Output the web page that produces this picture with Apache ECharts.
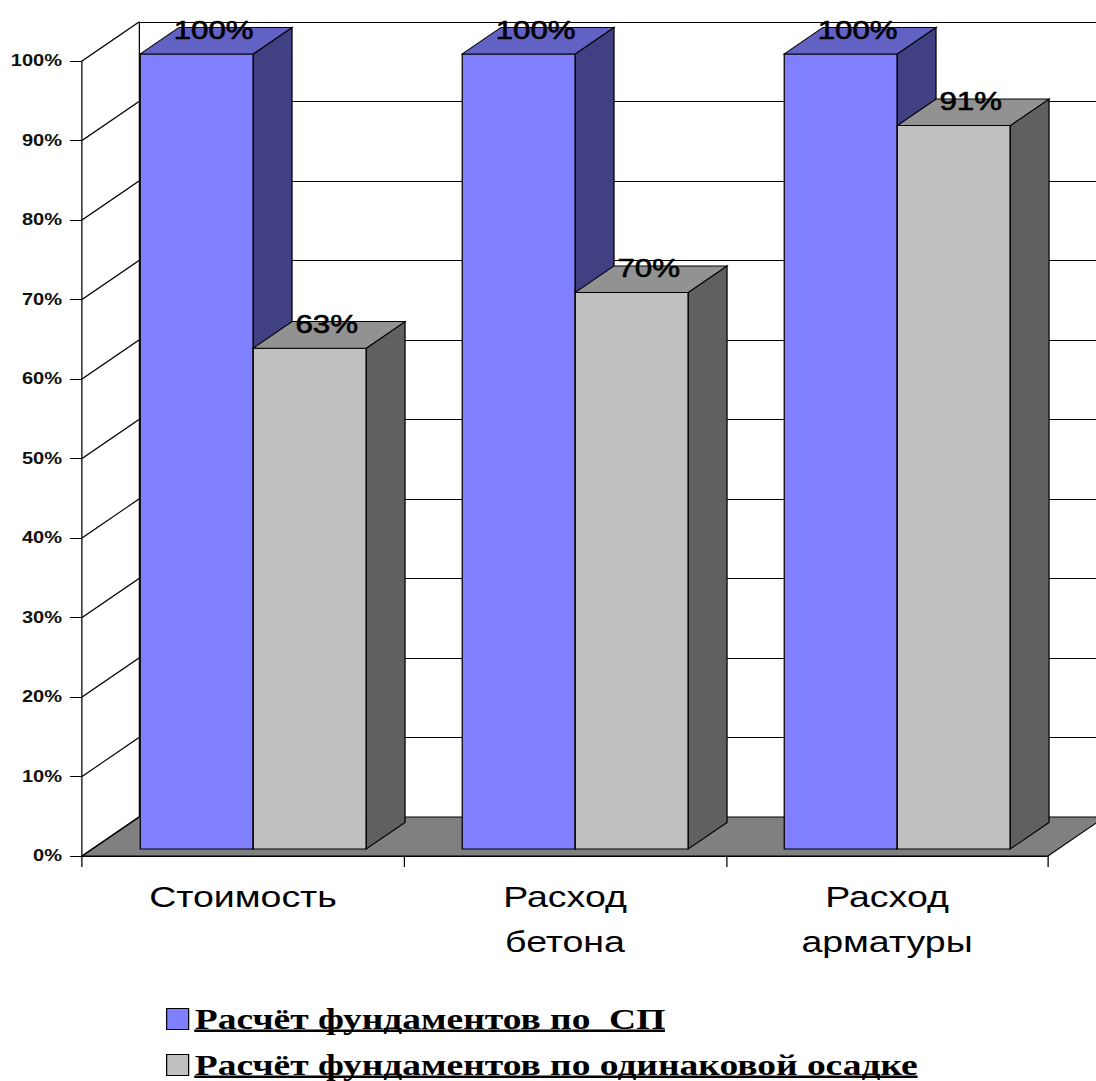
<!DOCTYPE html>
<html>
<head>
<meta charset="utf-8">
<script src="https://cdn.jsdelivr.net/npm/echarts@6.0.0/dist/echarts.min.js"></script>
<style>
  html, body { margin: 0; padding: 0; background: #fff; overflow: hidden; width: 1096px; height: 1081px; }
  /* the chart is laid out narrow and widened horizontally, like the original slide graphic */
  #chart { width: 876.8px; height: 1081px; transform: scaleX(1.25); transform-origin: 0 0; }
</style>
</head>
<body>
<div id="chart"></div>
<script>
// ---- data ----
const CATEGORIES = ['Стоимость', 'Расход\nбетона', 'Расход\nарматуры'];
const SERIES_NAMES = ['Расчёт фундаментов по  СП', 'Расчёт фундаментов по одинаковой осадке'];
const SP_VALUES = [1.00, 1.00, 1.00];
const SETTLEMENT_VALUES = [0.63, 0.70, 0.91];
const Y_TICKS = [0, 0.1, 0.2, 0.3, 0.4, 0.5, 0.6, 0.7, 0.8, 0.9, 1.0];

// ---- 3D look ----
const DX = 45.6, DY = -39;          // depth vector of the walls/floor
const BAR_FRONT = 0.18;             // bars start this far into the depth
const BAR_DEPTH = 0.68;             // bar thickness as part of the depth
const BAR_FRAC = 0.351;             // bar width as part of a category band

const GRID = { left: 65.6, top: 61, width: 772.8, height: 795 };

const pct = v => Math.round(v * 100) + '%';

const PALETTE = [
  { front: '#8080FF', top: '#6262C4', side: '#404082' },
  { front: '#C0C0C0', top: '#929292', side: '#606060' }
];

function barRenderer(slot) {
  const c = PALETTE[slot];
  return function (params, api) {
    const cat = api.value(0), v = api.value(1);
    const base = api.coord([cat, 0]);
    const top = api.coord([cat, v]);
    const w = api.size([1, 0])[0] * BAR_FRAC;
    const fx = BAR_FRONT * DX, fy = BAR_FRONT * DY;
    const bx = BAR_DEPTH * DX, by = BAR_DEPTH * DY;
    const xl = base[0] - w + slot * w + fx;
    const xr = xl + w;
    const yb = base[1] + fy, yt = top[1] + fy;
    const edge = { stroke: '#000', lineWidth: 1 };
    return {
      type: 'group',
      children: [
        { type: 'rect', shape: { x: xl, y: yt, width: w, height: yb - yt },
          style: Object.assign({ fill: c.front }, edge) },
        { type: 'polygon', shape: { points: [[xr, yb], [xr + bx, yb + by], [xr + bx, yt + by], [xr, yt]] },
          style: Object.assign({ fill: c.side }, edge) },
        { type: 'polygon', shape: { points: [[xl, yt], [xr, yt], [xr + bx, yt + by], [xl + bx, yt + by]] },
          style: Object.assign({ fill: c.top }, edge) },
        { type: 'text', x: xl + w / 2 + bx / 2 - 2, y: yt - 24,
          style: { text: pct(v), fontSize: 25, fontFamily: 'Liberation Sans', fill: '#000',
                   stroke: '#000', lineWidth: 0.6,
                   align: 'center', verticalAlign: 'middle' } }
      ]
    };
  };
}

// side wall diagonals and the floor
function frameRenderer(params, api) {
  const cs = params.coordSys;
  const v = api.value(0);
  const y = api.coord([0, v])[1];
  const x0 = cs.x;
  const children = [];
  if (v === 0) {
    children.push({
      type: 'polygon',
      shape: { points: [[x0, y], [x0 + cs.width, y], [x0 + cs.width + DX, y + DY], [x0 + DX, y + DY]] },
      style: { fill: '#808080', stroke: '#000', lineWidth: 1 }
    });
  }
  children.push({
    type: 'line',
    shape: { x1: x0, y1: y, x2: x0 + DX, y2: y + DY },
    style: { stroke: '#000', lineWidth: 1 }
  });
  return { type: 'group', children };
}

const LEGEND = { left: 132.8, top: 1004, rowStep: 46, itemWidth: 17.6, itemHeight: 21, fontSize: 30 };
const LEGEND_FONT = 'bold ' + LEGEND.fontSize + 'px "Liberation Serif"';

function measure(text) {
  const ctx = document.createElement('canvas').getContext('2d');
  ctx.font = LEGEND_FONT;
  return ctx.measureText(text).width;
}

// one legend row per series, stacked
const legends = SERIES_NAMES.map((name, i) => ({
  orient: 'vertical',
  left: LEGEND.left, top: LEGEND.top + i * LEGEND.rowStep,
  padding: 0,
  itemWidth: LEGEND.itemWidth, itemHeight: LEGEND.itemHeight,
  icon: 'rect',
  data: [name],
  itemStyle: { borderColor: '#000', borderWidth: 1 },
  textStyle: { color: '#000', fontSize: LEGEND.fontSize, fontWeight: 'bold',
               fontFamily: 'Liberation Serif', lineHeight: LEGEND.itemHeight },
  selectedMode: false
}));

// legend labels are underlined
const underlines = SERIES_NAMES.map((name, i) => ({
  type: 'rect',
  shape: { x: LEGEND.left + LEGEND.itemWidth + 5,
           y: LEGEND.top + i * LEGEND.rowStep + LEGEND.itemHeight / 2 + 15,
           width: measure(name), height: 2.5 },
  style: { fill: '#000' },
  silent: true
}));

const yAxisCommon = { type: 'value', min: 0, max: 1, interval: 0.1 };

const chart = echarts.init(document.getElementById('chart'), null, { renderer: 'svg' });
chart.setOption({
  animation: false,
  backgroundColor: '#fff',
  grid: [
    Object.assign({}, GRID),
    { left: GRID.left + DX, top: GRID.top + DY, width: GRID.width, height: GRID.height }
  ],
  xAxis: [
    {
      type: 'category', data: CATEGORIES, gridIndex: 0, boundaryGap: true,
      axisLine: { lineStyle: { color: '#000', width: 1 } },
      axisTick: { show: true, length: 11, lineStyle: { color: '#000', width: 1 } },
      axisLabel: { color: '#000', fontSize: 30, lineHeight: 45, margin: 18,
                   fontFamily: 'Liberation Sans', interval: 0 },
      splitLine: { show: false }
    },
    { type: 'category', data: CATEGORIES, gridIndex: 1, show: false }
  ],
  yAxis: [
    Object.assign({}, yAxisCommon, {
      gridIndex: 0,
      axisLine: { show: true, lineStyle: { color: '#000', width: 1 } },
      axisTick: { show: true, length: 9.6, lineStyle: { color: '#000', width: 1 } },
      axisLabel: { color: '#111', fontSize: 16, fontWeight: 'bold', fontFamily: 'Liberation Sans',
                   margin: 16, formatter: pct },
      splitLine: { show: false }
    }),
    Object.assign({}, yAxisCommon, {
      gridIndex: 1,
      axisLine: { show: true, lineStyle: { color: '#000', width: 1 } },
      axisTick: { show: false },
      axisLabel: { show: false },
      splitLine: { show: true, lineStyle: { color: '#000', width: 1.2 } }
    })
  ],
  legend: legends,
  graphic: underlines,
  series: [
    {
      type: 'custom', name: 'frame', xAxisIndex: 0, yAxisIndex: 0, silent: true,
      renderItem: frameRenderer,
      data: Y_TICKS.map(v => [v]),
      encode: { y: 0 }
    },
    {
      type: 'custom', name: SERIES_NAMES[0], xAxisIndex: 0, yAxisIndex: 0,
      itemStyle: { color: PALETTE[0].front },
      renderItem: barRenderer(0),
      data: SP_VALUES.map((v, i) => [i, v]),
      encode: { x: 0, y: 1 }
    },
    {
      type: 'custom', name: SERIES_NAMES[1], xAxisIndex: 0, yAxisIndex: 0,
      itemStyle: { color: PALETTE[1].front },
      renderItem: barRenderer(1),
      data: SETTLEMENT_VALUES.map((v, i) => [i, v]),
      encode: { x: 0, y: 1 }
    }
  ]
});
</script>
</body>
</html>
